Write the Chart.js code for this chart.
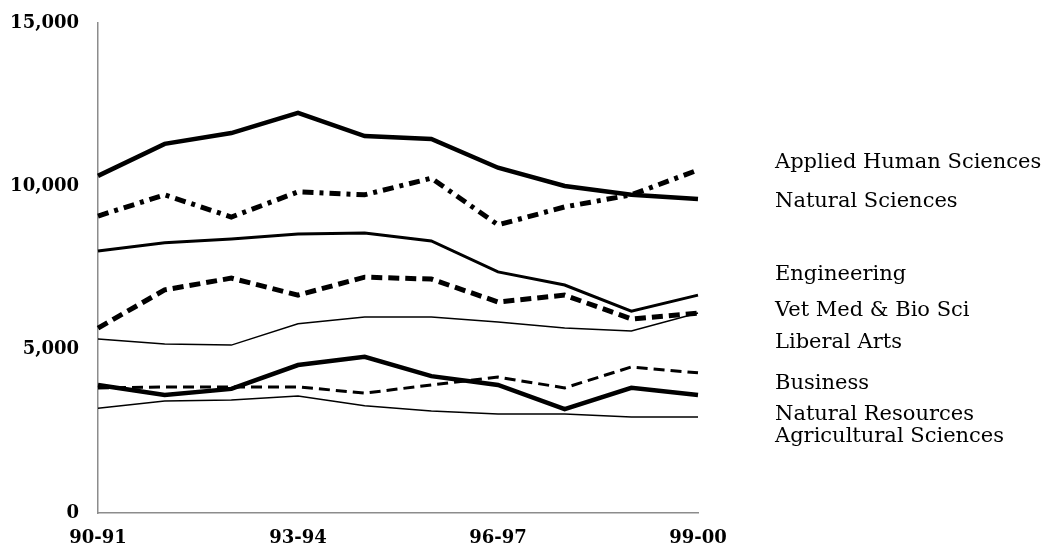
<!DOCTYPE html>
<html>
<head>
<meta charset="utf-8">
<script src="https://cdn.jsdelivr.net/npm/chart.js@4.4.1/dist/chart.umd.min.js"></script>
<style>
  html, body { margin: 0; padding: 0; background: #fff; }
  #wrap { position: relative; width: 1047px; height: 548px; }
</style>
</head>
<body>
<div id="wrap"><canvas id="myChart"></canvas></div>
<script>
// school years on the x axis
const years = ["90-91","91-92","92-93","93-94","94-95","95-96","96-97","97-98","98-99","99-00"];

// series
const appliedHuman = [9090, 9740, 9060, 9830, 9740, 10250, 8820, 9370, 9740, 10500];
const naturalSci   = [10320, 11300, 11630, 12250, 11540, 11450, 10570, 10010, 9740, 9610];
const engineering  = [8020, 8270, 8390, 8540, 8570, 8330, 7380, 6980, 6180, 6670];
const vetMed       = [5660, 6830, 7190, 6670, 7220, 7160, 6460, 6670, 5940, 6120];
const liberalArts  = [5330, 5170, 5140, 5790, 6000, 6000, 5850, 5660, 5570, 6120];
const business     = [3830, 3860, 3860, 3860, 3670, 3920, 4160, 3830, 4470, 4290];
const naturalRes   = [3920, 3610, 3800, 4530, 4780, 4190, 3920, 3180, 3830, 3610];
const agricultural = [3210, 3430, 3460, 3580, 3280, 3120, 3030, 3030, 2940, 2940];

const seriesNames = ["Applied Human Sciences","Natural Sciences","Engineering","Vet Med & Bio Sci",
  "Liberal Arts","Business","Natural Resources","Agricultural Sciences"];
const yTicks = [0, 5000, 10000, 15000];

// where the names sit on the right (pixels from top)
const nameY = [163, 202, 275, 311, 343, 384, 415, 437];

const serif = "'DejaVu Serif', 'Liberation Serif', serif";

const sideNames = {
  id: "sideNames",
  afterDraw(chart) {
    const ctx = chart.ctx;
    ctx.save();
    ctx.fillStyle = "#000";
    ctx.font = "21px " + serif;
    ctx.textBaseline = "middle";
    ctx.textAlign = "left";
    seriesNames.forEach((n, i) => ctx.fillText(n, 775, nameY[i]));
    ctx.restore();
  }
};

function line(data, width, dash) {
  return {
    data: data,
    borderColor: "#000",
    backgroundColor: "#000",
    borderWidth: width,
    borderDash: dash || [],
    pointRadius: 0,
    tension: 0,
    fill: false
  };
}

const data = {
  labels: years,
  datasets: [
    line(appliedHuman, 5, [11, 6, 4, 6]),
    line(naturalSci, 4.5),
    line(engineering, 3),
    line(vetMed, 5, [11, 6]),
    line(liberalArts, 1.5),
    line(business, 3, [11, 6]),
    line(naturalRes, 4.5),
    line(agricultural, 1.5)
  ]
};

new Chart(document.getElementById("myChart").getContext("2d"), {
  type: "line",
  data: data,
  plugins: [sideNames],
  options: {
    responsive: true,
    maintainAspectRatio: false,
    animation: false,
    layout: { padding: { left: 0, right: 349, top: 23, bottom: 0 } },
    plugins: { legend: { display: false }, tooltip: { enabled: false } },
    scales: {
      x: {
        offset: false,
        grid: { display: true, drawOnChartArea: false, drawTicks: false },
        border: { display: true, color: "#8c8c8c", width: 1.5 },
        ticks: {
          autoSkip: false,
          maxRotation: 0,
          padding: 15,
          color: "#000",
          font: { family: serif, size: 18, weight: "bold" },
          callback: (v, i) => (i % 3 === 0 ? years[i] : "")
        },
        afterFit: (s) => { s.height = 35; }
      },
      y: {
        min: 0,
        max: 15000,
        grid: { display: true, drawOnChartArea: false, drawTicks: false },
        border: { display: true, color: "#8c8c8c", width: 1.5 },
        afterBuildTicks: (s) => { s.ticks = yTicks.map(v => ({ value: v })); },
        ticks: {
          padding: 19,
          color: "#000",
          font: { family: serif, size: 18, weight: "bold" },
          callback: (v) => v.toLocaleString("en-US")
        },
        afterFit: (s) => {
          s.width = 98;
          s.paddingTop = 0;
          s.paddingBottom = 0;
        }
      }
    }
  }
});
</script>
</body>
</html>
